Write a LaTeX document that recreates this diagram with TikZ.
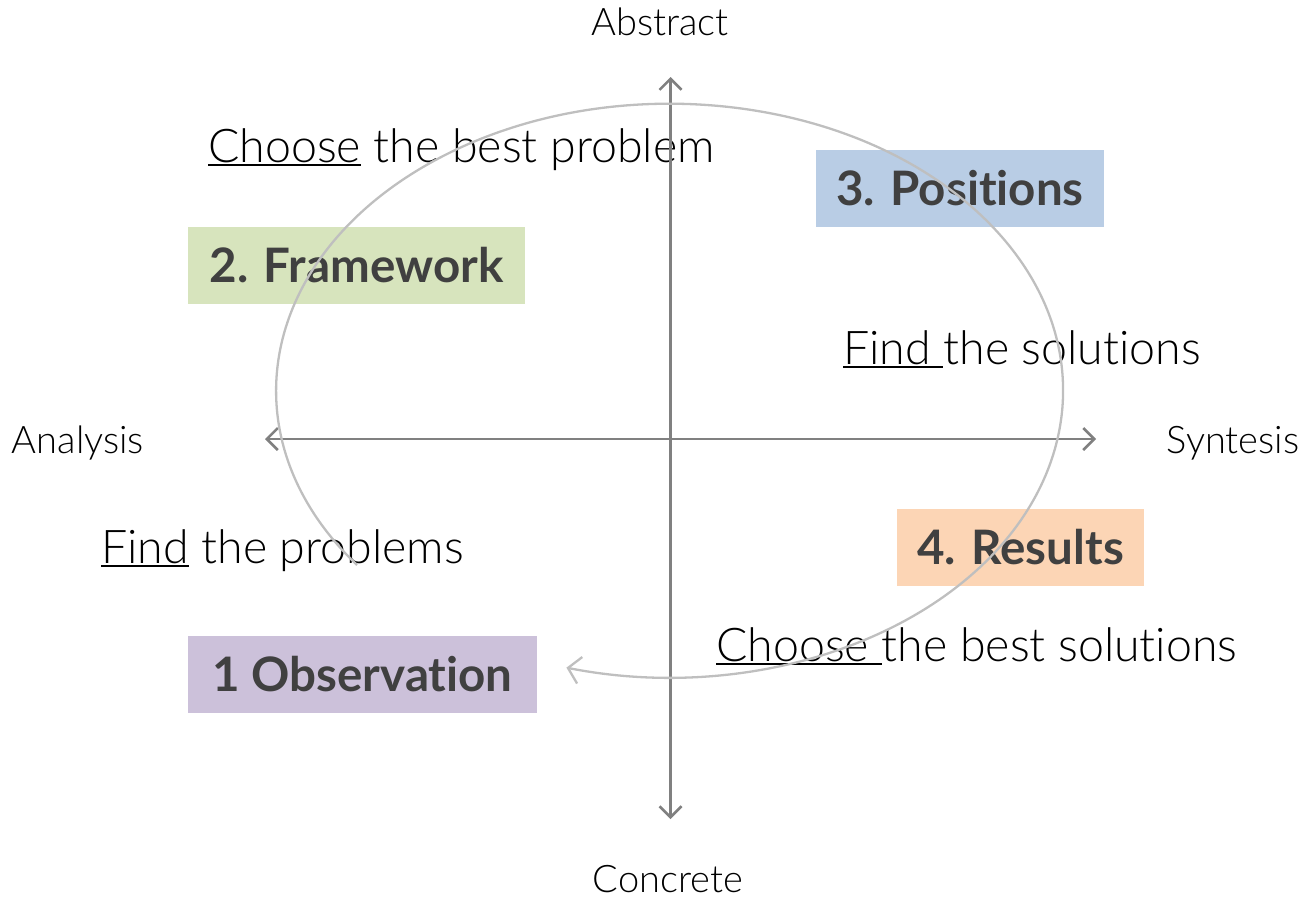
\documentclass[tikz,border=0pt]{standalone}
\usepackage{fontspec}
\setmainfont[Ligatures=NoCommon]{Lato}
\newfontfamily\lightfont[Ligatures=NoCommon]{Lato Light}
\usetikzlibrary{arrows.meta}
\definecolor{axisgray}{HTML}{808080}
\definecolor{ellgray}{HTML}{BFBFBF}
\definecolor{darktext}{HTML}{404040}
\definecolor{boxgreen}{HTML}{D7E4BD}
\definecolor{boxblue}{HTML}{B9CDE5}
\definecolor{boxorange}{HTML}{FCD5B5}
\definecolor{boxpurple}{HTML}{CCC1DA}
\newcommand\myul[1]{\setbox0\hbox{#1}\rlap{\rule[-0.09em]{\wd0}{0.05em}}\box0\relax}
\tikzset{
  axislabel/.style={font=\lightfont\fontsize{38}{44}\selectfont, text=black, inner sep=0pt},
  steplabel/.style={font=\lightfont\fontsize{46.5}{53}\selectfont, text=black, inner sep=0pt, anchor=base west},
  phasebox/.style={font=\bfseries\fontsize{47.5}{53}\selectfont, text=darktext, minimum height=77pt, inner sep=0pt},
  axisline/.style={draw=axisgray, line width=2.5pt, {Straight Barb[length=11pt,width=22pt]}-{Straight Barb[length=11pt,width=22pt]}},
  cycleline/.style={draw=ellgray, line width=2.3pt, -{Straight Barb[length=12pt,width=27pt]}}
}
\begin{document}
\begin{tikzpicture}[x=1pt,y=-1pt]
\useasboundingbox (0,0) rectangle (1303,899);
% boxes
\node[phasebox, fill=boxgreen, minimum width=337pt] (frame) at (356.5,265.5) {2. Framework};
\node[phasebox, fill=boxblue, minimum width=288pt] (pos) at (960,188.5) {3. Positions};
\node[phasebox, fill=boxorange, minimum width=247pt] (res) at (1020.5,547.5) {4. Results};
\node[phasebox, fill=boxpurple, minimum width=349pt] (obs) at (362.5,674.5) {1 Observation};
% step texts
\node[steplabel] (cbp) at (208,162) {\myul{Choose} the best problem};
\node[steplabel] (fts) at (843,364) {\myul{Find\ }the solutions};
\node[steplabel] (ftp) at (101,563) {\myul{Find} the problems};
\node[steplabel] (cbs) at (716,661) {\myul{Choose\ }the best solutions};
% axis labels
\node[axislabel] (abs) at (660,22) {Abstract};
\node[axislabel] (con) at (668,879) {Concrete};
\node[axislabel] (ana) at (78,443) {Analysis};
\node[axislabel] (syn) at (1233,443) {Syntesis};
% axes
\coordinate (top) at (670.5,77);
\coordinate (bot) at (670.5,819);
\coordinate (lft) at (265,439);
\coordinate (rgt) at (1096,439);
\draw[axisline] (lft) -- (rgt);
\draw[axisline] (top) -- (bot);
% cycle
\coordinate (cstart) at (357,565);
\draw[cycleline] (cstart) arc[start angle=142.6, end angle=465.2, x radius=393.5, y radius=287];
\end{tikzpicture}
\end{document}
